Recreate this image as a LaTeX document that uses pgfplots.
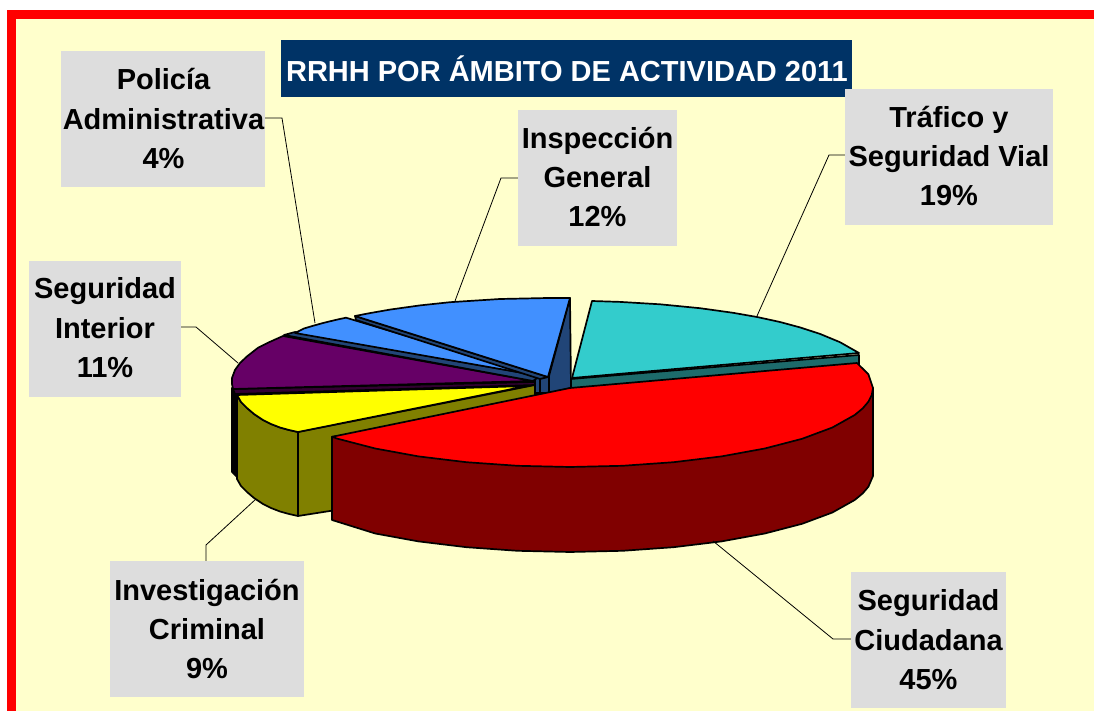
\documentclass[border=0pt]{standalone}
\usepackage{fontspec}
\setmainfont{Liberation Sans}
\usepackage{pgfplots}
\pgfplotsset{compat=1.18}

\definecolor{fondo}{HTML}{FFFFCC}
\definecolor{caja}{HTML}{DDDDDD}
\definecolor{titulo}{HTML}{003366}
\definecolor{teal}{HTML}{33CCCC}
\definecolor{tealosc}{HTML}{1D6B6B}
\definecolor{azul}{HTML}{4190FF}
\definecolor{azulosc}{HTML}{214577}
\definecolor{morado}{HTML}{660066}
\definecolor{moradoosc}{HTML}{330033}
\definecolor{oliva}{HTML}{808000}
\definecolor{rojoosc}{HTML}{800000}
\definecolor{amarillo}{RGB}{255,255,0}

\tikzset{
  cara/.style={draw=black, line width=0.85pt, line join=round},
  guia/.style={draw=black, line width=0.4pt},
  rotulo/.style={align=center, text=black, font=\fontsize{14.5}{19.7}\selectfont\bfseries},
}

\begin{document}
\begin{tikzpicture}
\begin{axis}[
    scale only axis, width=547pt, height=355.5pt,
    xmin=0, xmax=1094, ymin=0, ymax=711,
    y dir=reverse,
    hide axis,
]
% fondo y marco
\addplot[fill=white, draw=none] coordinates {(0,0) (1094,0) (1094,711) (0,711)} --cycle;
\addplot[fill=red, draw=none] coordinates {(7,10) (1094,10) (1094,711) (7,711)} --cycle;
\addplot[fill=fondo, draw=none] coordinates {(16,19) (1094,19) (1094,711) (16,711)} --cycle;

% Seguridad Interior, lateral
\addplot[cara, fill=black] coordinates {(232,388) (238,395) (238,478) (232,472)} --cycle;
% Investigacion Criminal, laterales
\addplot[cara, fill=oliva] coordinates {(298,432) (535,385) (535,396) (400,500) (298,516)} --cycle;
\addplot[cara, fill=oliva] coordinates {(237,395) (241,402) (247,408) (254,414) (263,420) (271,424) (280,427.5) (289,430) (298,432) (298,516) (289,514) (280,511.5) (271,508) (263,504) (254,498) (247,492) (241,486) (237,479)} --cycle;
% Investigacion Criminal, tapa
\addplot[cara, fill=amarillo] coordinates {(527,386) (237,395) (241,402) (247,408) (254,414) (263,420) (271,424) (280,427.5) (289,430) (298,432)} --cycle;
% Seguridad Interior
\addplot[cara, fill=moradoosc] coordinates {(233,389) (535,382) (535,385) (235,394)} --cycle;
\addplot[cara, fill=morado] coordinates {(533,381) (283,336) (270,341.8) (258,347.8) (247,356.4) (240,363) (235,370) (232,378) (232,384) (233,389)} --cycle;
% Policia Administrativa
\addplot[cara, fill=azulosc] coordinates {(535,376) (540,377) (540,393) (535,393)} --cycle;
\addplot[cara, fill=azulosc] coordinates {(284,335) (295,332) (540,376) (533,381)} --cycle;
\addplot[cara, fill=azul] coordinates {(295,333) (304,328.5) (313,325.8) (322,323.3) (330,321.3) (338,319.4) (346,317.7) (540,376)} --cycle;
% Inspeccion General
\addplot[cara, fill=azulosc] coordinates {(540,377) (549,376) (549,393) (540,393)} --cycle;
\addplot[cara, fill=azulosc] coordinates {(549,376) (570,298) (571,388) (549,393)} --cycle;
\addplot[cara, fill=azulosc] coordinates {(355,316) (548,377) (540,379) (356,320)} --cycle;
\addplot[cara, fill=azul] coordinates {(355,316) (370,313.1) (390,309.6) (420,305.4) (450,302.2) (500,299) (548,298) (570,298) (548,377)} --cycle;
% Trafico y Seguridad Vial
\addplot[cara, fill=tealosc] coordinates {(571,379) (859,355) (859,365) (571,389)} --cycle;
\addplot[cara, fill=teal] coordinates {(572,378) (592,301) (620,301.9) (660,304.3) (700,308.2) (733,312.8) (757,317) (780,322) (800,327.4) (820,333.9) (840,342.2) (859,353)} --cycle;
% Seguridad Ciudadana
\addplot[cara, fill=rojoosc] coordinates {(332,436.8) (873,388) (873,476) (868.4,486.7) (862.7,493.4) (854.7,500) (832.4,512.5) (802.1,523.8) (764.8,533.5) (721.5,541.4) (673.6,547.2) (622.6,550.8) (570,552) (517.4,550.8) (466.4,547.2) (418.5,541.4) (375.2,533.5) (332,520)} --cycle;
\addplot[cara, fill=red] coordinates {(570,388) (332,436.8) (337.9,438.8) (375.2,448.5) (418.5,456.4) (466.4,462.2) (517.4,465.8) (570,467) (622.6,465.8) (673.6,462.2) (721.5,456.4) (764.8,448.5) (802.1,438.8) (832.4,427.5) (854.7,415) (862.7,408.4) (868.4,401.7) (871.8,394.9) (873,388) (868.4,374.3) (857,363)} --cycle;

% lineas guia
\addplot[guia] coordinates {(265,118) (282,118) (315,323)};
\addplot[guia] coordinates {(518,178) (501,178) (455,301)};
\addplot[guia] coordinates {(845,155) (829,155) (757,316)};
\addplot[guia] coordinates {(181,327) (196,327) (238,363)};
\addplot[guia] coordinates {(206,561) (206,545) (256,499)};
\addplot[guia] coordinates {(851,639) (833,639) (713,541)};

% cajas
\addplot[fill=titulo, draw=none] coordinates {(281,40) (852,40) (852,97) (281,97)} --cycle;
\addplot[fill=caja, draw=none] coordinates {(61,51) (265,51) (265,187) (61,187)} --cycle;
\addplot[fill=caja, draw=none] coordinates {(518,110) (677,110) (677,246) (518,246)} --cycle;
\addplot[fill=caja, draw=none] coordinates {(845,89) (1053,89) (1053,225) (845,225)} --cycle;
\addplot[fill=caja, draw=none] coordinates {(29,261) (181,261) (181,397) (29,397)} --cycle;
\addplot[fill=caja, draw=none] coordinates {(110,561) (304,561) (304,697) (110,697)} --cycle;
\addplot[fill=caja, draw=none] coordinates {(851,572) (1006,572) (1006,708) (851,708)} --cycle;

\node[font=\fontsize{14.5}{18}\selectfont\bfseries, text=white] at (axis cs:567,68.5) {RRHH POR ÁMBITO DE ACTIVIDAD 2011};
\node[rotulo] at (axis cs:163.5,118.5) {Policía\\Administrativa\\4\%};
\node[rotulo] at (axis cs:597.5,177) {Inspección\\General\\12\%};
\node[rotulo] at (axis cs:949,156) {Tráfico y\\Seguridad Vial\\19\%};
\node[rotulo] at (axis cs:105,328) {Seguridad\\Interior\\11\%};
\node[rotulo] at (axis cs:207,629) {Investigación\\Criminal\\9\%};
\node[rotulo] at (axis cs:928.5,640) {Seguridad\\Ciudadana\\45\%};
\end{axis}
\end{tikzpicture}
\end{document}
